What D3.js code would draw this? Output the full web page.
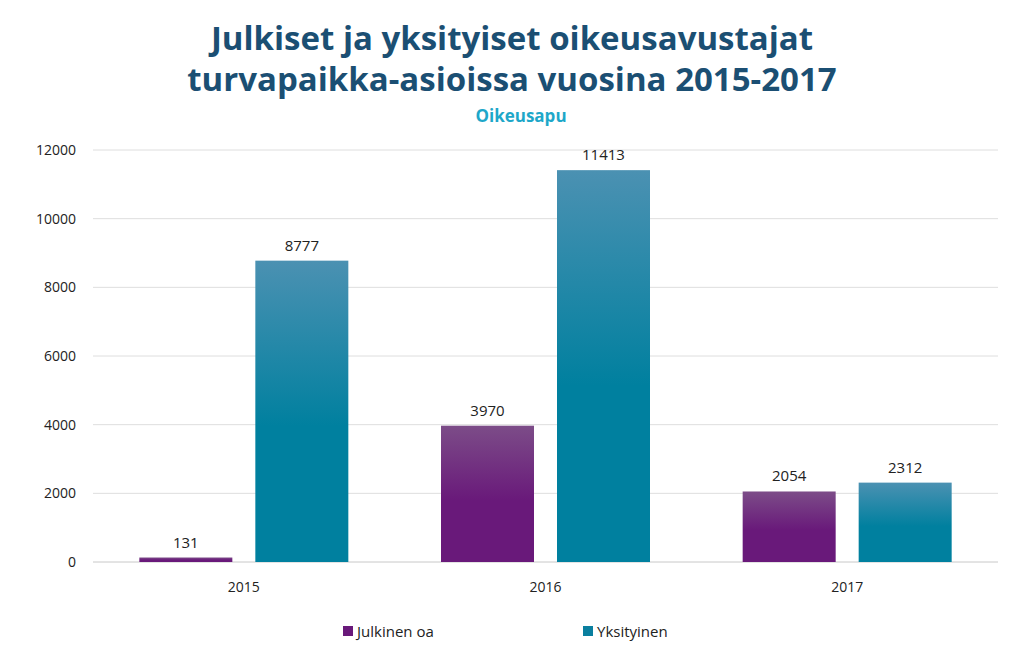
<!DOCTYPE html>
<html><head><meta charset="utf-8">
<script src="https://cdn.jsdelivr.net/npm/d3@7"></script>
<style>body{margin:0;background:#fff}text{font-family:"Open Sans","DejaVu Sans",sans-serif}</style>
</head><body>
<script>
var years = ["2015", "2016", "2017"];
var seriesNames = ["Julkinen oa", "Yksityinen"];
var julkinen = [131, 3970, 2054];
var yksityinen = [8777, 11413, 2312];
var yTicks = [0, 2000, 4000, 6000, 8000, 10000, 12000];

var W = 1023, H = 649;
var svg = d3.select("body").append("svg").attr("width", W).attr("height", H);

var defs = svg.append("defs");
function grad(id, top, bottom) {
    var g = defs.append("linearGradient").attr("id", id)
        .attr("x1", 0).attr("y1", 0).attr("x2", 0).attr("y2", 1);
    g.append("stop").attr("offset", "0%").attr("stop-color", top);
    g.append("stop").attr("offset", "55%").attr("stop-color", bottom);
    g.append("stop").attr("offset", "100%").attr("stop-color", bottom);
}
grad("gp", "#7c4c88", "#69197a");
grad("gb", "#4b91b2", "#00809f");
var fills = ["url(#gp)", "url(#gb)"];
var legendColors = ["#69197a", "#0a7f9f"];

svg.append("text").attr("x", 512).attr("y", 50).attr("text-anchor", "middle")
    .attr("fill", "#1b4f73").attr("font-size", 33).attr("font-weight", "bold")
    .text("Julkiset ja yksityiset oikeusavustajat");
svg.append("text").attr("x", 512).attr("y", 91).attr("text-anchor", "middle")
    .attr("fill", "#1b4f73").attr("font-size", 33).attr("font-weight", "bold")
    .text("turvapaikka-asioissa vuosina 2015-2017");
svg.append("text").attr("x", 521).attr("y", 122).attr("text-anchor", "middle")
    .attr("fill", "#1ea7c9").attr("font-size", 17).attr("font-weight", "bold")
    .text("Oikeusapu");

var x0 = d3.scaleBand().domain(years).range([93, 998]);
var y = d3.scaleLinear().domain([0, 12000]).range([562, 150]);

svg.append("g").selectAll("line").data(yTicks).enter().append("line")
    .attr("x1", 93).attr("x2", 998).attr("y1", d => y(d)).attr("y2", d => y(d))
    .attr("stroke", d => d === 0 ? "#c8c8c8" : "#dedede");

svg.append("g").selectAll("text").data(yTicks).enter().append("text")
    .attr("x", 76).attr("y", d => y(d) + 5).attr("text-anchor", "end")
    .attr("font-size", 14).attr("fill", "#222").text(d => d);

svg.append("g").selectAll("text").data(years).enter().append("text")
    .attr("x", d => x0(d) + x0.bandwidth() / 2).attr("y", 592).attr("text-anchor", "middle")
    .attr("font-size", 14).attr("fill", "#222").text(d => d);

var series = [julkinen, yksityinen];
var barW = 93, gap = 23;
series.forEach(function (vals, s) {
    var g = svg.append("g");
    vals.forEach(function (v, i) {
        var cx = x0(years[i]) + x0.bandwidth() / 2;
        var bx = s === 0 ? cx - gap / 2 - barW : cx + gap / 2;
        g.append("rect").attr("x", bx).attr("y", y(v)).attr("width", barW)
            .attr("height", y(0) - y(v)).attr("fill", fills[s]);
        g.append("text").attr("x", bx + barW / 2).attr("y", y(v) - 10)
            .attr("text-anchor", "middle").attr("font-size", 15).attr("fill", "#222").text(v);
    });
});

var legX = [343, 583];
seriesNames.forEach(function (n, i) {
    svg.append("rect").attr("x", legX[i]).attr("y", 626).attr("width", 10).attr("height", 10)
        .attr("fill", legendColors[i]);
    svg.append("text").attr("x", legX[i] + 14).attr("y", 637).attr("font-size", 15)
        .attr("fill", "#222").text(n);
});
</script>
</body></html>
